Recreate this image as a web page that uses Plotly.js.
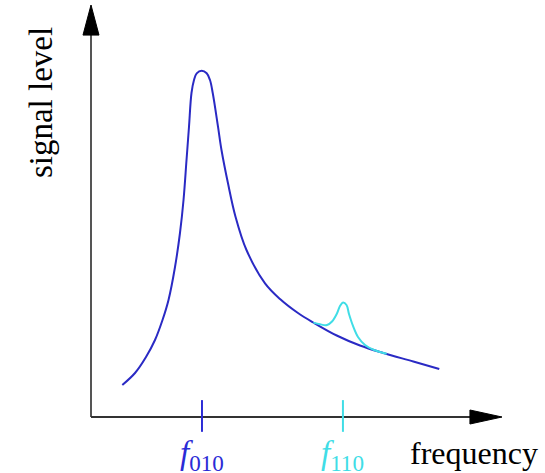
<!DOCTYPE html>
<html>
<head>
<meta charset="utf-8">
<script src="https://cdn.plot.ly/plotly-3.0.1.min.js"></script>
<style>html,body{margin:0;padding:0;background:#fff;}#chart{width:545px;height:473px;}</style>
</head>
<body>
<div id="chart"></div>
<script>
// TM010 resonance (main peak)
var blueFreq  = [0.762, 1.071, 1.338, 1.557, 1.740, 1.886, 2.044, 2.165, 2.251, 2.324, 2.384, 2.445, 2.506, 2.572, 2.693,
                 2.815, 2.895, 2.963, 3.090, 3.175, 3.333, 3.516, 3.783, 4.234, 4.599, 5.036, 5.409, 5.978, 6.545, 7.112, 7.842, 8.474];
var blueLevel = [0.777, 1.068, 1.456, 1.869, 2.354, 2.840, 3.641, 4.466, 5.267, 6.238, 7.039, 7.864, 8.180, 8.342, 8.405,
                 8.342, 8.180, 7.857, 7.046, 6.481, 5.672, 4.862, 4.053, 3.245, 2.864, 2.524, 2.294, 1.978, 1.735, 1.553, 1.347, 1.165];
// TM110 resonance (small bump)
var cyanFreq  = [5.409, 5.572, 5.742, 5.864, 5.978, 6.058, 6.131, 6.217, 6.277, 6.375, 6.496, 6.667, 6.886, 7.195];
var cyanLevel = [2.290, 2.250, 2.233, 2.318, 2.500, 2.694, 2.779, 2.718, 2.500, 2.209, 1.942, 1.748, 1.626, 1.534];
// marked frequencies on the axis
var tickFreqs  = [2.70, 6.13];
var tickLabels = ['<i>f</i><sub>010</sub>', '<i>f</i><sub>110</sub>'];
var tickColors = ['#2b2bd6', '#40dde6'];
var axisMax = 10;

var serif = '"Liberation Serif", "Times New Roman", serif';

var traces = [
  {x: blueFreq, y: blueLevel, mode: 'lines', line: {color: '#2a2ac4', width: 2, shape: 'spline', smoothing: 1}, hoverinfo: 'skip'},
  {x: cyanFreq, y: cyanLevel, mode: 'lines', line: {color: '#40dde6', width: 2, shape: 'spline', smoothing: 1}, hoverinfo: 'skip'}
];

var shapes = [
  // y axis line
  {type: 'line', xref: 'x', yref: 'y', x0: 0, x1: 0, y0: 0, y1: axisMax - 0.6, line: {color: '#555', width: 2}},
  // x axis line
  {type: 'line', xref: 'x', yref: 'y', x0: 0, x1: axisMax - 0.6, y0: 0, y1: 0, line: {color: '#333', width: 2}},
  // arrowheads
  {type: 'path', xref: 'x', yref: 'y', path: 'M -0.195,9.27 L 0,' + axisMax + ' L 0.195,9.27 Z', fillcolor: '#000', line: {color: '#000', width: 1}},
  {type: 'path', xref: 'x', yref: 'y', path: 'M 9.22,-0.17 L ' + axisMax + ',0 L 9.22,0.17 Z', fillcolor: '#000', line: {color: '#000', width: 1}}
];
var annotations = [
  {text: 'signal level', xref: 'x', yref: 'y', x: -1.228, y: 7.633, textangle: -90, showarrow: false,
   font: {family: serif, size: 33, color: '#000'}},
  {text: 'frequency', xref: 'x', yref: 'y', x: 7.71, y: -0.862, xanchor: 'left', showarrow: false,
   font: {family: serif, size: 32, color: '#000'}}
];
tickFreqs.forEach(function (f, i) {
  shapes.push({type: 'line', xref: 'x', yref: 'y', x0: f, x1: f, y0: 0.41, y1: -0.36, line: {color: tickColors[i], width: 2}});
  annotations.push({text: tickLabels[i], xref: 'x', yref: 'y', x: f, y: -0.93, showarrow: false,
    font: {family: serif, size: 33, color: tickColors[i]}});
});

var layout = {
  width: 545, height: 473,
  margin: {l: 0, r: 0, t: 0, b: 0},
  paper_bgcolor: '#fff', plot_bgcolor: '#fff',
  showlegend: false,
  xaxis: {range: [-2.2141, 11.0462], visible: false, fixedrange: true},
  yaxis: {range: [-1.3592, 10.1214], visible: false, fixedrange: true},
  shapes: shapes,
  annotations: annotations
};
Plotly.newPlot('chart', traces, layout, {staticPlot: true, displayModeBar: false});
</script>
</body>
</html>
